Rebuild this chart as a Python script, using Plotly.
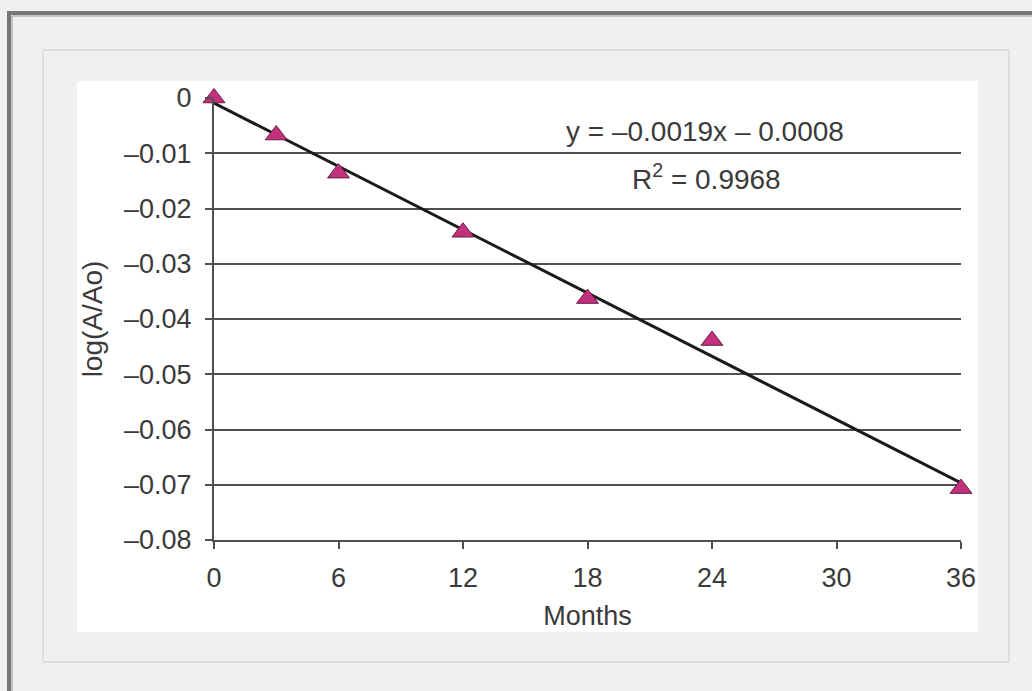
import numpy as np
import plotly.graph_objects as go

months = [0, 3, 6, 12, 18, 24, 36]
log_ratio = [0.0, -0.0067, -0.0136, -0.0243, -0.0363, -0.0439, -0.0707]
x_ticks = [0, 6, 12, 18, 24, 30, 36]
y_ticks = [0, -0.01, -0.02, -0.03, -0.04, -0.05, -0.06, -0.07, -0.08]
y_tick_text = ["0", "–0.01", "–0.02", "–0.03", "–0.04", "–0.05", "–0.06", "–0.07", "–0.08"]
eq_text = "y = –0.0019x – 0.0008"
r2_text = "R<sup>2</sup> = 0.9968"

W, H = 1032, 691
ML, MR, MT, MB = 214, 71, 98, 151
PW, PH = W - ML - MR, H - MT - MB

def px(x):
    return (x - ML) / PW

def py(y):
    return 1 - (y - MT) / PH

slope, intercept = np.polyfit(months, log_ratio, 1)
trend_x = [months[0], months[-1]]
trend_y = [slope * v + intercept for v in trend_x]

FONT = "Liberation Sans, Arial, Helvetica, sans-serif"
TXT = "#3a3a3a"
GRID = "#505050"
FS = 27

fig = go.Figure()
fig.add_trace(go.Scatter(x=trend_x, y=trend_y, mode="lines",
                         line=dict(color="#1a1a1a", width=3),
                         hoverinfo="skip", cliponaxis=False, showlegend=False))
fig.add_trace(go.Scatter(x=months, y=log_ratio, mode="markers",
                         marker=dict(symbol="triangle-up", size=19, color="#c2317e",
                                     line=dict(color="#6b1c44", width=1)),
                         cliponaxis=False, showlegend=False))

shapes = [
    dict(type="rect", xref="paper", yref="paper", x0=px(77), x1=px(978), y0=py(632), y1=py(81),
         fillcolor="white", line=dict(width=0), layer="below"),
    dict(type="rect", xref="paper", yref="paper", x0=px(43), x1=px(1009), y0=py(662), y1=py(50),
         fillcolor="rgba(0,0,0,0)", line=dict(color="#d8d8d8", width=1.5), layer="below"),
    dict(type="line", xref="paper", yref="paper", x0=px(7), x1=px(1040), y0=py(13), y1=py(13),
         line=dict(color="#777777", width=4), layer="below"),
    dict(type="line", xref="paper", yref="paper", x0=px(9), x1=px(9), y0=py(11), y1=py(700),
         line=dict(color="#777777", width=4), layer="below"),
    dict(type="line", xref="paper", yref="paper", x0=px(12), x1=px(1040), y0=py(16), y1=py(16),
         line=dict(color="#b5b5b5", width=1.5), layer="below"),
    dict(type="line", xref="paper", yref="paper", x0=px(12), x1=px(12), y0=py(16), y1=py(700),
         line=dict(color="#b5b5b5", width=1.5), layer="below"),
]

fig.update_layout(
    width=W, height=H,
    margin=dict(l=ML, r=MR, t=MT, b=MB, pad=0),
    paper_bgcolor="#f0f0f0", plot_bgcolor="white",
    font=dict(family=FONT, size=FS, color=TXT),
    shapes=shapes,
    xaxis=dict(range=[0, 36], tickvals=x_ticks, ticks="outside", ticklen=7, tickwidth=2,
               tickcolor=GRID, showgrid=False, zeroline=False, showline=True,
               linecolor=GRID, linewidth=2,
               tickfont=dict(size=FS, color=TXT), ticklabelstandoff=6,
               title=dict(text="Months", font=dict(size=FS, color=TXT), standoff=14)),
    yaxis=dict(range=[-0.08, 0], tickvals=y_ticks, ticktext=y_tick_text, ticks="outside",
               ticklen=7, tickwidth=2, tickcolor=GRID, showgrid=True, gridcolor=GRID,
               gridwidth=2, zeroline=False, showline=True, linecolor=GRID, linewidth=2,
               tickfont=dict(size=FS, color=TXT), ticklabelstandoff=8,
               title=dict(text="log(A/Ao)", font=dict(size=FS + 1, color=TXT), standoff=13)),
    annotations=[
        dict(xref="paper", yref="paper", x=px(705), y=py(132), text=eq_text, showarrow=False,
             xanchor="center", yanchor="middle", font=dict(size=FS + 1, color=TXT)),
        dict(xref="paper", yref="paper", x=px(706), y=py(177), text=r2_text, showarrow=False,
             xanchor="center", yanchor="middle", font=dict(size=FS + 1, color=TXT)),
    ],
)

fig.write_html("out.html")
